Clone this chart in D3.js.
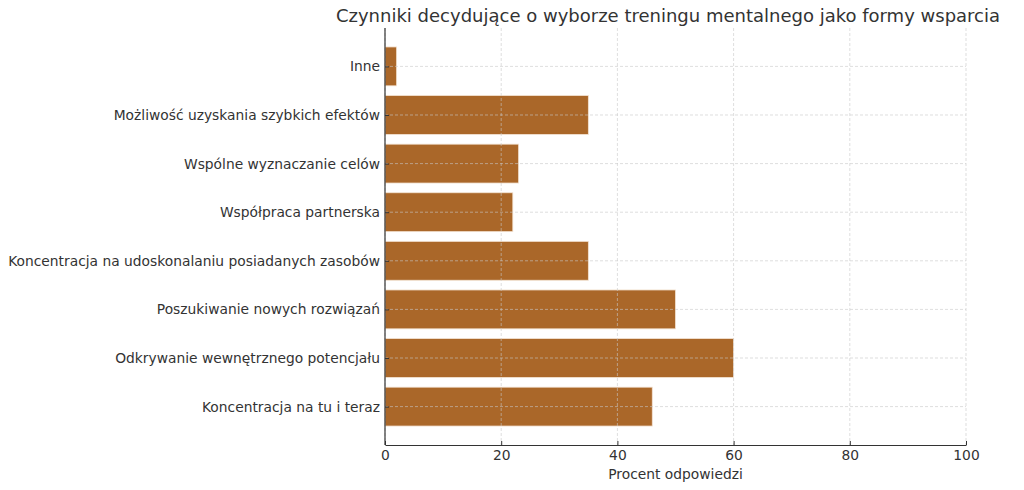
<!DOCTYPE html>
<html>
<head>
<meta charset="utf-8">
<script src="https://cdn.jsdelivr.net/npm/d3@7"></script>
<style>
  body { margin: 0; background: #fff; }
  text { font-family: "DejaVu Sans", sans-serif; fill: #333; }
</style>
</head>
<body>
<div id="chart"></div>
<script>
// data, bottom to top as in the picture
const categories = [
    'Koncentracja na tu i teraz',
    'Odkrywanie wewnętrznego potencjału',
    'Poszukiwanie nowych rozwiązań',
    'Koncentracja na udoskonalaniu posiadanych zasobów',
    'Współpraca partnerska',
    'Wspólne wyznaczanie celów',
    'Możliwość uzyskania szybkich efektów',
    'Inne'
];
const values = [46, 60, 50, 35, 22, 23, 35, 2];
const xTicks = [0, 20, 40, 60, 80, 100];

const width = 1024, height = 490;
const margin = { top: 28, right: 58, bottom: 45, left: 385 };
const innerW = width - margin.left - margin.right;
const innerH = height - margin.top - margin.bottom;

const svg = d3.select('#chart').append('svg')
    .attr('width', width)
    .attr('height', height);

const g = svg.append('g')
    .attr('transform', `translate(${margin.left},${margin.top})`);

const x = d3.scaleLinear().domain([0, 100]).range([0, innerW]);
// matplotlib style y range: -0.79 .. 7.79 with bar height 0.8
const y = d3.scaleLinear().domain([-0.79, categories.length - 1 + 0.79]).range([innerH, 0]);
const barH = Math.abs(y(0.8) - y(0));

// bars
g.append('g').selectAll('rect').data(values).enter().append('rect')
    .attr('x', x(0))
    .attr('y', (d, i) => y(i) - barH / 2)
    .attr('width', d => x(d) - x(0))
    .attr('height', barH)
    .attr('fill', '#aa6729')
    .attr('stroke', '#f3e3d3')
    .attr('stroke-width', 0.8);

// dashed grid, drawn over the bars
g.append('g').selectAll('line').data(xTicks).enter().append('line')
    .attr('x1', d => x(d)).attr('x2', d => x(d))
    .attr('y1', 0).attr('y2', innerH)
    .attr('stroke', '#c8c8c8').attr('stroke-opacity', 0.75).attr('stroke-width', 0.8)
    .attr('stroke-dasharray', '3,2');
g.append('g').selectAll('line').data(categories).enter().append('line')
    .attr('x1', 0).attr('x2', innerW)
    .attr('y1', (d, i) => y(i)).attr('y2', (d, i) => y(i))
    .attr('stroke', '#c8c8c8').attr('stroke-opacity', 0.75).attr('stroke-width', 0.8)
    .attr('stroke-dasharray', '3,2');

// x axis, ticks pointing inward
const xAxis = g.append('g')
    .attr('transform', `translate(0,${innerH})`)
    .call(d3.axisBottom(x).tickValues(xTicks).tickSizeInner(-4).tickSizeOuter(0).tickPadding(5));
xAxis.select('.domain').attr('stroke', '#333').attr('stroke-width', 1.2);
xAxis.selectAll('line').attr('stroke', '#333');
xAxis.selectAll('text').style('font-size', '14px').style('fill', '#333');

// y axis
const yAxis = g.append('g')
    .call(d3.axisLeft(y).tickValues(d3.range(categories.length))
        .tickFormat(i => categories[i]).tickSizeInner(-4).tickSizeOuter(0).tickPadding(5));
yAxis.select('.domain').attr('stroke', '#333').attr('stroke-width', 1.2)
    .attr('d', `M0,0V${innerH}`);
yAxis.selectAll('line').attr('stroke', '#333');
yAxis.selectAll('text').style('font-size', '14px').style('fill', '#333');

// x label
const xLabel = g.append('text')
    .attr('x', innerW / 2)
    .attr('y', innerH + 34)
    .attr('text-anchor', 'middle')
    .style('font-size', '14px')
    .text('Procent odpowiedzi');

// title
const title = svg.append('text')
    .attr('x', 668)
    .attr('y', 22)
    .attr('text-anchor', 'middle')
    .style('font-size', '18px')
    .text('Czynniki decydujące o wyborze treningu mentalnego jako formy wsparcia');

// squeeze text horizontally a little to match the reference glyph widths
function squeeze(sel, k) {
    sel.each(function () {
        const t = d3.select(this);
        const ax = +t.attr('x') || 0;
        const prev = t.attr('transform') || '';
        t.attr('transform', `${prev} translate(${ax},0) scale(${k},1) translate(${-ax},0)`);
    });
}
const longest = yAxis.selectAll('text').filter(d => d === 3).node();
const k = Math.min(1, 372 / longest.getComputedTextLength());
squeeze(yAxis.selectAll('text'), k);
squeeze(xAxis.selectAll('text'), k);
squeeze(xLabel, k);
squeeze(title, Math.min(1, 666 / title.node().getComputedTextLength()));
</script>
</body>
</html>
